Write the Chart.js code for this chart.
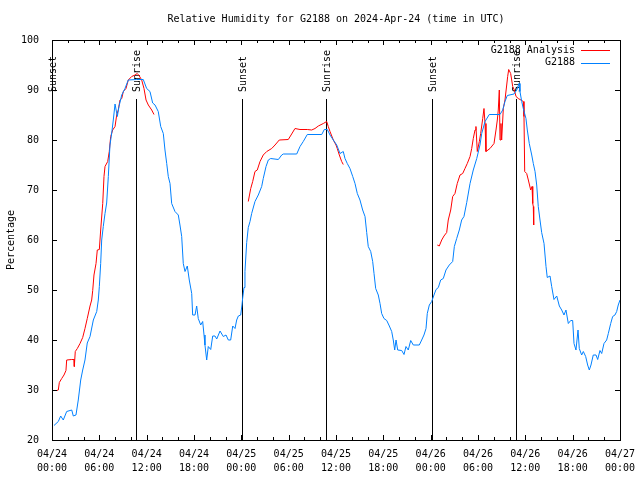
<!DOCTYPE html>
<html>
<head>
<meta charset="utf-8">
<title>Relative Humidity for G2188</title>
<script src="https://cdn.jsdelivr.net/npm/chart.js@4.4.1/dist/chart.umd.min.js"></script>
<style>
  html, body { margin: 0; padding: 0; background: #fff; }
  #wrap { width: 640px; height: 480px; }
</style>
</head>
<body>
<div id="wrap"><canvas id="rh" width="640" height="480"></canvas></div>
<script>
// Hours since 2024-04-24 00:00 UTC, observed RH at G2188
const obsHours = [
    0.25, 0.80, 1.10, 1.43, 1.86, 2.50, 2.70, 3.04, 3.33, 3.64, 3.89, 4.18, 4.47, 4.82, 5.24, 5.67,
    5.87, 6.00, 6.17, 6.30, 6.50, 6.72, 6.93, 7.14, 7.35, 7.57, 7.77, 7.99, 8.28, 8.49, 8.84, 9.25,
    9.67, 10.74, 11.57, 12.00, 12.42, 12.76, 13.06, 13.47, 13.78, 14.11, 14.32, 14.54, 14.74, 14.96,
    15.17, 15.59, 16.01, 16.22, 16.44, 16.64, 16.86, 17.15, 17.40, 17.71, 17.83, 18.13, 18.34, 18.54,
    18.85, 19.10, 19.27, 19.39, 19.61, 19.81, 20.12, 20.37, 20.66, 20.88, 21.30, 21.71, 22.06, 22.35,
    22.65, 22.91, 23.20, 23.41, 23.62, 23.92, 24.08, 24.17, 24.34, 24.46, 24.68, 24.88, 25.10, 25.31,
    25.73, 26.15, 26.58, 26.78, 27.13, 27.42, 27.72, 28.69, 29.12, 29.32, 31.02, 31.44, 31.85, 32.36,
    34.19, 34.52, 34.90, 35.24, 35.66, 36.09, 36.51, 36.92, 37.14, 37.43, 37.77, 38.12, 38.41, 38.70,
    39.04, 39.38, 39.68, 39.89, 40.09, 40.40, 40.65, 40.82, 41.03, 41.36, 41.58, 41.79, 42.08, 42.43,
    42.76, 43.06, 43.26, 43.44, 43.61, 43.82, 44.33, 44.62, 44.87, 45.16, 45.47, 45.80, 46.56, 46.86,
    47.15, 47.41, 47.57, 47.83, 48.13, 48.42, 48.68, 48.97, 49.27, 49.60, 49.94, 50.36, 50.79, 51.00,
    51.30, 51.63, 51.93, 52.22, 52.57, 52.99, 53.40, 53.84, 54.25, 54.47, 54.89, 55.43, 56.79, 57.13,
    57.42, 57.71, 58.56, 58.91, 59.20, 59.32, 59.54, 59.74, 60.08, 60.25, 60.50, 60.81, 61.01, 61.23,
    61.44, 61.64, 61.86, 62.07, 62.37, 62.62, 62.78, 63.13, 63.34, 63.63, 63.98, 64.31, 64.61, 64.90,
    65.15, 65.45, 65.75, 66.00, 66.17, 66.42, 66.68, 66.84, 67.14, 67.35, 67.65, 67.90, 68.11, 68.32,
    68.61, 68.96, 69.17, 69.46, 69.68, 69.97, 70.31, 70.52, 70.82, 71.07, 71.36, 71.58, 71.78, 72.00
];
const obsRh = [
    22.9, 23.7, 24.8, 24.0, 25.7, 26.0, 24.8, 25.0, 28.0, 32.0, 34.0, 36.0, 39.4, 40.7, 44.0, 45.7,
    48.0, 50.7, 55.3, 60.0, 62.7, 65.3, 67.4, 72.7, 79.0, 81.4, 84.0, 87.2, 84.7, 86.7, 89.0, 90.3,
    92.0, 92.1, 92.1, 90.3, 89.7, 87.4, 87.0, 85.7, 82.7, 81.3, 78.0, 75.3, 72.7, 71.3,
    67.3, 65.7, 65.0, 63.0, 60.7, 55.3, 53.7, 54.8, 52.0, 49.3, 45.0, 45.0, 46.8, 44.3,
    43.0, 43.7, 41.0, 39.0, 36.0, 38.7, 38.1, 40.8, 40.8, 40.2, 41.8, 40.7, 41.0, 40.0,
    40.0, 42.8, 42.3, 44.0, 44.8, 45.0, 47.0, 48.4, 50.5, 53.7, 59.5, 62.5, 63.7, 65.3,
    67.7, 69.0, 70.7, 72.3, 74.7, 76.0, 76.3, 76.1, 77.0, 77.2, 77.2, 78.7, 79.7, 81.1,
    81.1, 82.1, 82.1, 81.0, 80.0, 79.0, 77.3, 77.7, 76.3, 75.3, 74.3, 72.7, 71.3, 69.3,
    68.0, 66.0, 64.7, 61.5, 58.7, 57.7, 55.7, 53.3, 50.3, 49.0, 47.3, 45.3, 44.3, 43.9,
    42.8, 41.7, 40.0, 38.0, 40.0, 38.0, 37.9, 37.1, 38.7, 38.0, 39.9, 39.0, 39.0, 40.0,
    41.0, 42.3, 45.3, 47.0, 47.7, 49.0, 50.1, 50.5, 52.0, 52.3, 54.0, 55.0, 55.7, 58.7,
    60.3, 62.0, 64.0, 64.7, 67.5, 71.3, 74.0, 76.3, 79.0, 81.3, 83.7, 85.1, 85.1, 86.0,
    87.7, 88.9, 89.2, 90.0, 91.3, 89.7, 87.7, 86.3, 84.3, 82.0, 79.3, 77.0, 75.3, 73.7,
    71.0, 66.7, 64.0, 61.5, 59.3, 54.7, 52.5, 52.8, 50.7, 48.1, 48.8, 46.8, 46.0, 45.0,
    46.0, 43.3, 43.9, 43.9, 39.3, 38.0, 42.0, 38.3, 37.0, 37.7, 36.7, 35.0, 34.0, 35.0,
    37.0, 37.0, 36.1, 37.9, 37.3, 39.3, 40.0, 41.3, 43.3, 44.7, 45.0, 45.7, 47.0, 48.0
];

// Analysis RH: three separate runs with gaps between them
const anaHoursA = [
    0.60, 0.80, 0.93, 1.23, 1.52, 1.77, 1.86, 2.50, 2.79, 2.83, 2.95, 3.21, 3.55, 3.89, 4.18, 4.47,
    4.82, 5.03, 5.16, 5.32, 5.58, 5.74, 6.00, 6.17, 6.43, 6.59, 6.72, 7.06, 7.26, 7.44, 7.69, 7.99,
    8.20, 8.40, 8.62, 8.84, 9.04, 9.38, 9.67, 10.10, 10.52, 10.81, 11.07, 11.37, 11.66, 11.92, 12.21,
    12.64, 12.93
];
const anaRhA = [
    29.9, 30.0, 31.5, 32.3, 33.0, 33.9, 36.0, 36.1, 36.1, 34.7, 37.7, 38.3, 39.3, 40.5, 42.3, 44.3,
    46.8, 48.0, 49.9, 53.0, 55.3, 58.0, 58.1, 62.0, 67.3, 72.7, 74.7, 75.7, 77.7, 80.7, 82.0, 82.7,
    85.0, 86.0, 88.0, 88.3, 89.7, 90.3, 92.0, 92.7, 93.0, 93.3, 92.8, 92.0, 90.3, 88.0, 87.0,
    86.0, 85.1
];
const anaHoursB = [
    24.88, 25.19, 25.44, 25.73, 26.02, 26.37, 26.78, 27.22, 27.85, 28.27, 28.81, 29.95, 30.38, 30.80,
    31.44, 32.36, 32.92, 33.34, 33.76, 34.39, 34.82, 35.02, 35.24, 35.66, 36.00, 36.16, 36.42, 36.72,
    36.92
];
const anaRhB = [
    67.7, 70.3, 71.7, 73.7, 74.0, 75.7, 77.0, 77.7, 78.3, 79.0, 80.0, 80.1, 81.2, 82.3,
    82.1, 82.1, 82.0, 82.3, 82.8, 83.3, 83.7, 82.7, 81.7, 80.0, 79.0, 78.3, 77.0, 75.7,
    75.1
];
const anaHoursC = [
    48.84, 49.09, 49.40, 49.69, 50.03, 50.23, 50.54, 50.79, 51.08, 51.37, 51.72, 52.06, 52.35, 52.64,
    52.99, 53.20, 53.40, 53.62, 53.74, 53.91, 54.17, 54.34, 54.60, 54.76, 54.89, 55.01, 55.52, 56.03,
    56.28, 56.45, 56.57, 56.70, 56.79, 56.91, 57.00, 57.21, 57.42, 57.64, 57.76, 57.89, 58.14, 58.40,
    58.60, 58.82, 59.11, 59.54, 59.74, 59.83, 59.92, 60.17, 60.38, 60.68, 60.85, 60.94, 61.01, 61.06
];
const anaRhC = [
    59.0, 58.8, 60.0, 60.8, 61.5, 64.0, 66.0, 68.7, 69.3, 71.3, 73.0, 73.3, 74.3, 75.3,
    76.7, 78.3, 80.3, 82.0, 82.7, 77.7, 79.7, 81.3, 84.3, 86.3, 83.3, 77.7, 78.3, 79.3,
    82.0, 84.0, 86.0, 90.0, 80.0, 83.3, 80.0, 86.3, 88.0, 91.0, 92.7, 94.1, 93.3, 90.7,
    90.0, 88.7, 88.3, 87.9, 87.7, 84.7, 73.7, 73.3, 72.0, 70.0, 70.7, 67.3, 66.7, 63.0
];

// Sun events (hours since start)
const sunHours = [0.05, 10.69, 24.12, 34.69, 48.21, 58.78];
const sunLabels = ['Sunset', 'Sunrise', 'Sunset', 'Sunrise', 'Sunset', 'Sunrise'];

const xTickHours = [0, 6, 12, 18, 24, 30, 36, 42, 48, 54, 60, 66, 72];
const xTickLabels = [
    ['04/24', '00:00'], ['04/24', '06:00'], ['04/24', '12:00'], ['04/24', '18:00'],
    ['04/25', '00:00'], ['04/25', '06:00'], ['04/25', '12:00'], ['04/25', '18:00'],
    ['04/26', '00:00'], ['04/26', '06:00'], ['04/26', '12:00'], ['04/26', '18:00'],
    ['04/27', '00:00']
];
const yTicks = [20, 30, 40, 50, 60, 70, 80, 90, 100];

const TITLE = 'Relative Humidity for G2188 on 2024-Apr-24 (time in UTC)';
const Y_TITLE = 'Percentage';
const SERIES_NAMES = ['G2188 Analysis', 'G2188'];
const COLORS = { analysis: '#ff0000', obs: '#0080ff' };
const FONT = "'DejaVu Sans Mono', 'Liberation Mono', monospace";

const toPoints = (hs, vs) => hs.map((h, i) => ({ x: h, y: vs[i] }));

// join the analysis runs with a null point so the line breaks
const gap = (a, b) => ({ x: (a[a.length - 1] + b[0]) / 2, y: null });
const analysisPoints = [
    ...toPoints(anaHoursA, anaRhA), gap(anaHoursA, anaHoursB),
    ...toPoints(anaHoursB, anaRhB), gap(anaHoursB, anaHoursC),
    ...toPoints(anaHoursC, anaRhC),
];

// gnuplot-style frame: border, inward ticks, sun markers, legend, titles
const frame = {
    id: 'frame',
    beforeDatasetsDraw(chart) {
        const { ctx, scales: { x, y } } = chart;
        ctx.save();
        ctx.strokeStyle = '#000';
        ctx.lineWidth = 1;
        ctx.fillStyle = '#000';
        ctx.font = `10px ${FONT}`;
        sunHours.forEach((h, i) => {
            const px = Math.round(x.getPixelForValue(h)) + 0.5;
            ctx.beginPath();
            ctx.moveTo(px, Math.round(y.getPixelForValue(88.2)));
            ctx.lineTo(px, y.bottom);
            ctx.stroke();
            ctx.save();
            ctx.translate(px + 1, 92);
            ctx.rotate(-Math.PI / 2);
            ctx.textAlign = 'left';
            ctx.textBaseline = 'middle';
            ctx.fillText(sunLabels[i], 0, 0);
            ctx.restore();
        });
        ctx.restore();
    },
    afterDraw(chart) {
        const { ctx, chartArea: a, scales: { x, y } } = chart;
        ctx.save();
        ctx.strokeStyle = '#000';
        ctx.lineWidth = 1;
        ctx.strokeRect(Math.round(a.left) + 0.5, Math.round(a.top) + 0.5,
            Math.round(a.right - a.left), Math.round(a.bottom - a.top));

        ctx.beginPath();
        for (let h = 0; h <= 72; h += 2) {
            const px = Math.round(x.getPixelForValue(h)) + 0.5;
            const len = h % 6 === 0 ? 5 : 3;
            ctx.moveTo(px, a.bottom); ctx.lineTo(px, a.bottom - len);
            ctx.moveTo(px, a.top); ctx.lineTo(px, a.top + len);
        }
        yTicks.forEach(v => {
            const py = Math.round(y.getPixelForValue(v)) + 0.5;
            ctx.moveTo(a.left, py); ctx.lineTo(a.left + 5, py);
            ctx.moveTo(a.right, py); ctx.lineTo(a.right - 5, py);
        });
        ctx.stroke();

        ctx.fillStyle = '#000';
        ctx.font = `10px ${FONT}`;
        ctx.textBaseline = 'middle';
        ctx.textAlign = 'center';
        ctx.fillText(TITLE, 336, 19);

        ctx.save();
        ctx.translate(11, 240);
        ctx.rotate(-Math.PI / 2);
        ctx.fillText(Y_TITLE, 0, 0);
        ctx.restore();

        // legend
        const legendColors = [COLORS.analysis, COLORS.obs];
        SERIES_NAMES.forEach((name, i) => {
            const ly = 50 + i * 12.5;
            ctx.textAlign = 'right';
            ctx.fillStyle = '#000';
            ctx.fillText(name, 575, ly);
            ctx.strokeStyle = legendColors[i];
            ctx.beginPath();
            ctx.moveTo(581, Math.round(ly) + 0.5);
            ctx.lineTo(610, Math.round(ly) + 0.5);
            ctx.stroke();
        });
        ctx.restore();
    }
};

new Chart(document.getElementById('rh'), {
    type: 'line',
    data: {
        datasets: [
            {
                label: SERIES_NAMES[0],
                data: analysisPoints,
                borderColor: COLORS.analysis,
                borderWidth: 1,
                pointRadius: 0,
                tension: 0,
                spanGaps: false,
                order: 1,
            },
            {
                label: SERIES_NAMES[1],
                data: toPoints(obsHours, obsRh),
                borderColor: COLORS.obs,
                borderWidth: 1,
                pointRadius: 0,
                tension: 0,
                order: 0,
            },
        ],
    },
    options: {
        responsive: false,
        animation: false,
        devicePixelRatio: 1,
        layout: { padding: { left: 0, right: 20, top: 40, bottom: 0 } },
        plugins: {
            legend: { display: false },
            tooltip: { enabled: false },
        },
        scales: {
            x: {
                type: 'linear',
                min: 0,
                max: 72,
                afterFit: (s) => { s.height = 40; },
                afterBuildTicks: (s) => { s.ticks = xTickHours.map(v => ({ value: v })); },
                grid: { display: false },
                border: { display: false },
                ticks: {
                    autoSkip: false,
                    maxRotation: 0,
                    padding: -1,
                    color: '#000',
                    font: { family: FONT, size: 10, lineHeight: 1.4 },
                    callback: (v) => {
                        const i = xTickHours.indexOf(v);
                        return i >= 0 ? xTickLabels[i] : '';
                    },
                },
            },
            y: {
                min: 20,
                max: 100,
                afterFit: (s) => { s.width = 52; },
                afterBuildTicks: (s) => { s.ticks = yTicks.map(v => ({ value: v })); },
                grid: { display: false },
                border: { display: false },
                ticks: {
                    padding: 5,
                    color: '#000',
                    font: { family: FONT, size: 10 },
                },
            },
        },
    },
    plugins: [frame],
});
</script>
</body>
</html>
